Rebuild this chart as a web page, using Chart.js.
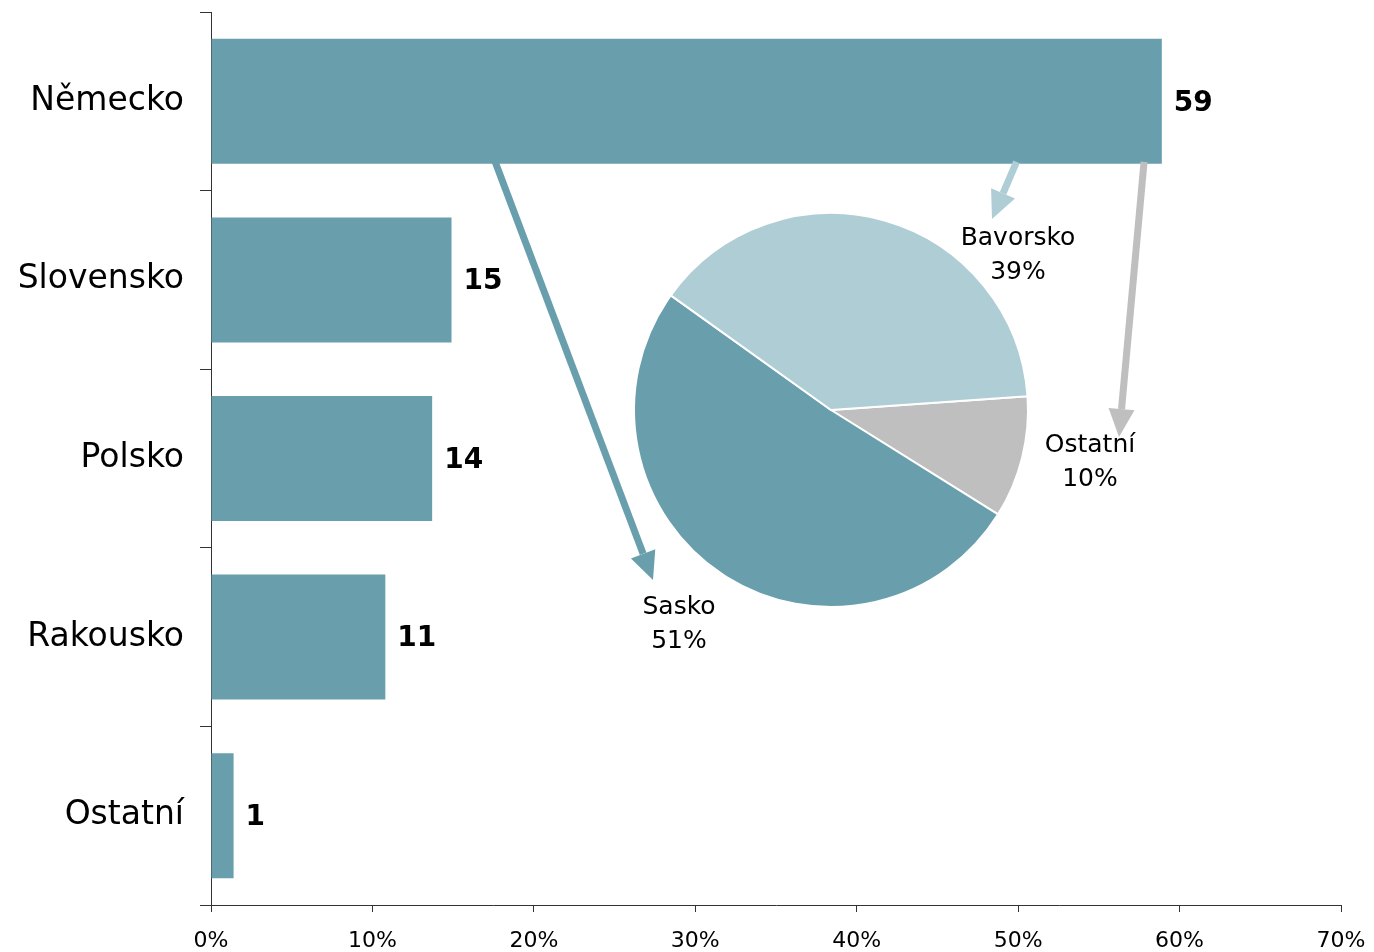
<!DOCTYPE html>
<html>
<head>
<meta charset="utf-8">
<script src="https://cdn.jsdelivr.net/npm/chart.js@4"></script>
<style>
  html, body { margin: 0; padding: 0; background: #fff; }
  #wrap { position: relative; width: 1374px; height: 952px; }
  #wrap canvas { position: absolute; left: 0; top: 0; }
  #pieChart { pointer-events: none; }
</style>
</head>
<body>
<div id="wrap">
  <canvas id="barChart" width="1374" height="952"></canvas>
  <canvas id="pieChart" width="1374" height="952"></canvas>
</div>
<script>
// Bar data (share of exports, %)
const categories = ['Německo', 'Slovensko', 'Polsko', 'Rakousko', 'Ostatní'];
const shares = [58.9, 14.9, 13.7, 10.8, 1.4];
const axisMax = 70;
const axisStep = 10;

// Pie data (split of Německo)
const regions = ['Ostatní', 'Sasko', 'Bavorsko'];
const regionShares = [10, 51, 39];

const TEAL = '#699fad';
const LIGHT = '#afcdd5';
const GREY = '#bfbfbf';
const AXIS = '#333333';

Chart.defaults.font.family = "'DejaVu Sans', Verdana, sans-serif";
Chart.defaults.color = '#000';

// value labels right of each bar
const valueLabels = {
    id: 'valueLabels',
    afterDatasetsDraw(chart) {
        const ctx = chart.ctx;
        const meta = chart.getDatasetMeta(0);
        ctx.save();
        ctx.font = "bold 28px 'DejaVu Sans'";
        ctx.fillStyle = '#000';
        ctx.textAlign = 'left';
        ctx.textBaseline = 'middle';
        meta.data.forEach((bar, i) => {
            ctx.fillText(String(Math.round(shares[i])), bar.x + 12, bar.y + 2);
        });
        ctx.restore();
    }
};

const barChart = new Chart(document.getElementById('barChart'), {
    type: 'bar',
    data: {
        labels: categories,
        datasets: [{
            data: shares,
            backgroundColor: TEAL,
            borderWidth: 0,
            barPercentage: 0.7,
            categoryPercentage: 1
        }]
    },
    options: {
        indexAxis: 'y',
        responsive: false,
        animation: false,
        layout: { padding: { top: 12, right: 33, left: 0, bottom: 0 } },
        plugins: { legend: { display: false }, tooltip: { enabled: false } },
        scales: {
            x: {
                min: 0,
                max: axisMax,
                grid: { drawOnChartArea: false, tickLength: 7, color: AXIS },
                border: { color: AXIS },
                ticks: {
                    stepSize: axisStep,
                    padding: 16,
                    maxRotation: 0,
                    font: { size: 22 },
                    callback: v => v + '%'
                },
                afterFit(scale) {
                    scale.height = 47;
                    scale.paddingLeft = 0;
                    scale.paddingRight = 0;
                }
            },
            y: {
                grid: { drawOnChartArea: false, tickLength: 11, color: AXIS, offset: true },
                border: { color: AXIS },
                ticks: { padding: 16, font: { size: 33 } },
                afterFit(scale) {
                    scale.width = 211;
                    scale.paddingTop = 0;
                    scale.paddingBottom = 0;
                }
            }
        }
    },
    plugins: [valueLabels]
});

// label placement around the pie, and arrows from the Německo bar
const pieLabelPos = {
    'Bavorsko': { dx: 187, dy: -172 },
    'Ostatní': { dx: 259, dy: 35 },
    'Sasko': { dx: -152, dy: 197 }
};
const arrows = [
    { region: 'Sasko', from: 17.6, tip: { dx: -26, dy: -27 }, color: TEAL },
    { region: 'Bavorsko', from: 49.9, tip: { dx: -26, dy: -19 }, color: LIGHT },
    { region: 'Ostatní', from: 57.8, tip: { dx: 29, dy: -8 }, color: GREY }
];

function drawArrow(ctx, x0, y0, x1, y1, color) {
    const ang = Math.atan2(y1 - y0, x1 - x0);
    const headLen = 28, headHalf = 13;
    const bx = x1 - headLen * Math.cos(ang);
    const by = y1 - headLen * Math.sin(ang);
    ctx.save();
    ctx.strokeStyle = color;
    ctx.fillStyle = color;
    ctx.lineWidth = 7;
    ctx.beginPath();
    ctx.moveTo(x0, y0);
    ctx.lineTo(bx, by);
    ctx.stroke();
    ctx.beginPath();
    ctx.moveTo(x1, y1);
    ctx.lineTo(bx + headHalf * Math.sin(ang), by - headHalf * Math.cos(ang));
    ctx.lineTo(bx - headHalf * Math.sin(ang), by + headHalf * Math.cos(ang));
    ctx.closePath();
    ctx.fill();
    ctx.restore();
}

const pieExtras = {
    id: 'pieExtras',
    afterDatasetsDraw(chart) {
        const ctx = chart.ctx;
        const arc = chart.getDatasetMeta(0).data[0];
        const cx = arc.x, cy = arc.y;
        ctx.save();
        ctx.font = "25px 'DejaVu Sans'";
        ctx.fillStyle = '#000';
        ctx.textAlign = 'center';
        ctx.textBaseline = 'middle';
        regions.forEach((name, i) => {
            const p = pieLabelPos[name];
            ctx.fillText(name, cx + p.dx, cy + p.dy);
            ctx.fillText(regionShares[i] + '%', cx + p.dx, cy + p.dy + 34);
        });
        ctx.restore();

        const bar = barChart.getDatasetMeta(0).data[0];
        const xs = barChart.scales.x;
        const barBottom = bar.y + bar.height / 2;
        arrows.forEach(a => {
            const p = pieLabelPos[a.region];
            drawArrow(ctx, xs.getPixelForValue(a.from), barBottom - 2,
                cx + p.dx + a.tip.dx, cy + p.dy + a.tip.dy, a.color);
        });
    }
};

new Chart(document.getElementById('pieChart'), {
    type: 'pie',
    data: {
        labels: regions,
        datasets: [{
            data: regionShares,
            backgroundColor: [GREY, TEAL, LIGHT],
            borderColor: '#ffffff',
            borderWidth: 2
        }]
    },
    options: {
        responsive: false,
        animation: false,
        rotation: 86,
        layout: { padding: { left: 633, right: 345, top: 212, bottom: 344 } },
        plugins: { legend: { display: false }, tooltip: { enabled: false } }
    },
    plugins: [pieExtras]
});
</script>
</body>
</html>
